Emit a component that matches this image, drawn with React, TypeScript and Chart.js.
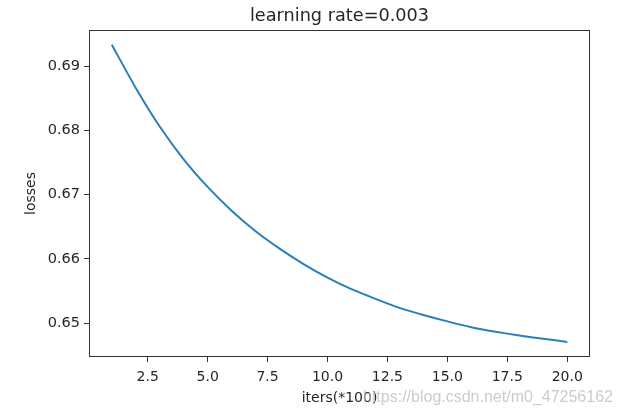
import React, { useEffect, useRef } from "react";
import { Chart, registerables } from "chart.js";

Chart.register(...registerables);

const iters = [1, 2, 3, 4, 5, 6, 7, 8, 9, 10, 11, 12, 13, 14, 15, 16, 17, 18, 19, 20];
const losses = [
  0.6933, 0.6866, 0.6806, 0.6755, 0.6712, 0.6675, 0.6643, 0.6616, 0.6592, 0.6571,
  0.6553, 0.6538, 0.6524, 0.6513, 0.6503, 0.6494, 0.6487, 0.6481, 0.6476, 0.6471,
];
const xTicks = [2.5, 5.0, 7.5, 10.0, 12.5, 15.0, 17.5, 20.0];
const yTicks = [0.65, 0.66, 0.67, 0.68, 0.69];
const titleText = "learning rate=0.003";
const xLabel = "iters(*100)";
const yLabel = "losses";
const watermark = "https://blog.csdn.net/m0_47256162";

const W = 621;
const H = 417;
const PLOT = { left: 89, right: 590, top: 30, bottom: 357 };
const TEXT = "#262626";
const FONT = "'DejaVu Sans', sans-serif";

export default function App() {
  const ref = useRef<HTMLCanvasElement | null>(null);

  useEffect(() => {
    const canvas = ref.current;
    if (!canvas) return;
    const deco = {
      id: "deco",
      afterDraw(chart: any) {
        const ctx = chart.ctx;
        const a = chart.chartArea;
        ctx.save();
        ctx.strokeStyle = "#333";
        ctx.lineWidth = 1;
        ctx.strokeRect(Math.round(a.left) + 0.5, Math.round(a.top) + 0.5, Math.round(a.right - a.left) - 1, Math.round(a.bottom - a.top) - 1);
        ctx.fillStyle = TEXT;
        ctx.textAlign = "center";
        ctx.textBaseline = "middle";
        ctx.font = `17.7px ${FONT}`;
        ctx.fillText(titleText, (a.left + a.right) / 2, 16);
        ctx.font = `14px ${FONT}`;
        ctx.fillText(xLabel, (a.left + a.right) / 2, 398);
        ctx.save();
        ctx.translate(31, (a.top + a.bottom) / 2);
        ctx.rotate(-Math.PI / 2);
        ctx.fillText(yLabel, 0, 0);
        ctx.restore();
        ctx.fillStyle = "rgba(190,190,190,0.8)";
        ctx.textAlign = "left";
        ctx.font = `16px 'Liberation Sans', Arial, sans-serif`;
        ctx.fillText(watermark, 363, 398);
        ctx.restore();
      },
    };
    const chart = new Chart(canvas, {
      type: "line",
      data: {
        datasets: [
          {
            data: iters.map((x, i) => ({ x, y: losses[i] })),
            borderColor: "#2a7fba",
            borderWidth: 2,
            pointRadius: 0,
            fill: false,
            tension: 0.2,
          },
        ],
      },
      options: {
        animation: false,
        responsive: false,
        events: [],
        layout: { padding: { left: 0, top: PLOT.top, right: W - PLOT.right, bottom: 0 } },
        plugins: { legend: { display: false }, tooltip: { enabled: false }, title: { display: false } },
        scales: {
          x: {
            type: "linear",
            min: 0.05,
            max: 20.95,
            afterBuildTicks: (s: any) => {
              s.ticks = xTicks.map((v) => ({ value: v }));
            },
            afterFit: (s: any) => {
              s.height = H - PLOT.bottom;
            },
            grid: { drawOnChartArea: false, drawTicks: true, tickLength: 5, color: "#333", tickWidth: 1 },
            border: { display: false },
            ticks: {
              color: TEXT,
              font: { family: FONT, size: 14 },
              padding: 7,
              maxRotation: 0,
              autoSkip: false,
              callback: (v: any) => Number(v).toFixed(1),
            },
          },
          y: {
            type: "linear",
            min: 0.64476,
            max: 0.6956,
            afterBuildTicks: (s: any) => {
              s.ticks = yTicks.map((v) => ({ value: v }));
            },
            afterFit: (s: any) => {
              s.width = PLOT.left;
            },
            grid: { drawOnChartArea: false, drawTicks: true, tickLength: 5, color: "#333", tickWidth: 1 },
            border: { display: false },
            ticks: {
              color: TEXT,
              font: { family: FONT, size: 14.5 },
              padding: 4,
              autoSkip: false,
              callback: (v: any) => Number(v).toFixed(2),
            },
          },
        },
      },
      plugins: [deco],
    });
    return () => chart.destroy();
  }, []);

  return (
    <div style={{ position: "fixed", left: 0, top: 0, width: W, height: H, background: "#fff" }}>
      <canvas ref={ref} width={W} height={H} style={{ display: "block", width: W, height: H }} />
    </div>
  );
}
